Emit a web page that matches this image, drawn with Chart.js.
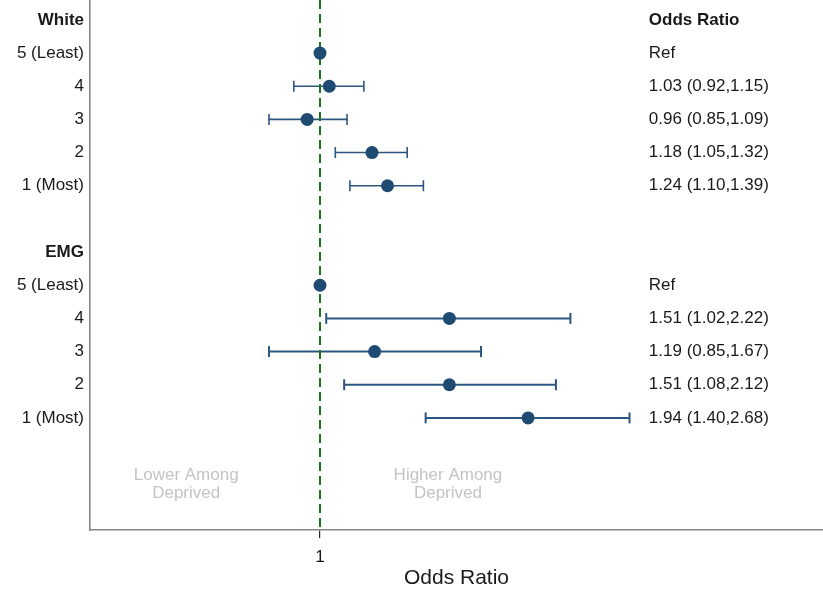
<!DOCTYPE html>
<html>
<head>
<meta charset="utf-8">
<script src="https://cdn.jsdelivr.net/npm/chart.js@4"></script>
<style>
  html, body { margin: 0; padding: 0; background: #fff; }
  #wrap { width: 823px; height: 594px; }
</style>
</head>
<body>
<div id="wrap"><canvas id="forest" width="823" height="594"></canvas></div>
<script>
// rows top to bottom (row index = y value)
const rowLabels = ['White', '5 (Least)', '4', '3', '2', '1 (Most)', '', 'EMG', '5 (Least)', '4', '3', '2', '1 (Most)'];
const headerRows = [0, 7];
const oddsRatio = [null, 1, 1.03, 0.96, 1.18, 1.24, null, null, 1, 1.51, 1.19, 1.51, 1.94];
const lowerCI   = [null, null, 0.92, 0.85, 1.05, 1.10, null, null, null, 1.02, 0.85, 1.08, 1.40];
const upperCI   = [null, null, 1.15, 1.09, 1.32, 1.39, null, null, null, 2.22, 1.67, 2.12, 2.68];
const orText = ['Odds Ratio', 'Ref', '1.03 (0.92,1.15)', '0.96 (0.85,1.09)', '1.18 (1.05,1.32)', '1.24 (1.10,1.39)', '',
                '', 'Ref', '1.51 (1.02,2.22)', '1.19 (0.85,1.67)', '1.51 (1.08,2.12)', '1.94 (1.40,2.68)'];
const xTicks = [1];
const noteLines = [['Lower Among', 'Deprived'], ['Higher Among', 'Deprived']];

const FONT = "'Liberation Sans', Arial, sans-serif";
const DOT = '#1f4a72';
const BAR = '#2b5680';

const yMin = -0.6, yMax = 15.38;
const xMin = 0.4807, xMax = 4.963;

const pointData = [];
oddsRatio.forEach((v, i) => { if (v !== null) pointData.push({ x: v, y: i }); });

const barSets = [];
lowerCI.forEach((lo, i) => {
    if (lo === null) return;
    const thin = i < 7;
    barSets.push({
        data: [{ x: lo, y: i }, { x: upperCI[i], y: i }],
        showLine: true,
        borderColor: BAR,
        borderWidth: thin ? 1.6 : 2,
        pointStyle: 'line',
        pointRotation: 90,
        pointRadius: 5.5,
        pointBorderWidth: thin ? 1.6 : 2,
        pointBorderColor: BAR,
        order: 3
    });
});

const textPlugin = {
    id: 'sideText',
    afterDatasetsDraw(chart) {
        const ctx = chart.ctx;
        const xs = chart.scales.x, ys = chart.scales.y;
        ctx.save();
        ctx.textBaseline = 'middle';
        ctx.textAlign = 'left';
        ctx.fillStyle = '#1a1a1a';
        const colX = xs.getPixelForValue(2.85);
        orText.forEach((t, i) => {
            ctx.font = (i === 0 ? 'bold ' : '') + '17px ' + FONT;
            ctx.fillText(t, colX, ys.getPixelForValue(i));
        });
        ctx.textAlign = 'center';
        ctx.fillStyle = '#c4c4c4';
        ctx.font = '17px ' + FONT;
        const noteX = [0.653, 1.503];
        noteLines.forEach((lines, k) => {
            const px = xs.getPixelForValue(noteX[k]);
            const py = ys.getPixelForValue(14);
            ctx.fillText(lines[0], px, py - 9);
            ctx.fillText(lines[1], px, py + 9);
        });
        ctx.restore();
    }
};

new Chart(document.getElementById('forest'), {
    type: 'scatter',
    data: {
        datasets: [
            {
                data: pointData,
                backgroundColor: DOT,
                borderWidth: 0,
                pointRadius: 6.5,
                order: 1
            },
            {
                data: [{ x: 1, y: yMin }, { x: 1, y: yMax }],
                showLine: true,
                borderColor: '#1a781a',
                borderWidth: 2,
                borderDash: [9, 5],
                pointRadius: 0,
                order: 2
            },
            ...barSets
        ]
    },
    options: {
        responsive: false,
        animation: false,
        layout: { padding: 0, autoPadding: false },
        plugins: { legend: { display: false }, tooltip: { enabled: false } },
        scales: {
            x: {
                type: 'logarithmic',
                min: xMin,
                max: xMax,
                afterBuildTicks: s => { s.ticks = xTicks.map(v => ({ value: v })); },
                afterFit: s => { s.height = 64; s.paddingLeft = 0; s.paddingRight = 0; },
                ticks: {
                    callback: v => String(v),
                    color: '#1a1a1a',
                    font: { family: FONT, size: 17 },
                    padding: 9,
                    autoSkip: false,
                    maxRotation: 0
                },
                grid: { drawOnChartArea: false, drawTicks: true, tickLength: 8, color: '#222', lineWidth: 1.2 },
                border: { color: '#858585', width: 1.6 },
                title: {
                    display: true,
                    text: 'Odds Ratio',
                    color: '#1a1a1a',
                    font: { family: FONT, size: 21 },
                    padding: { top: 0, bottom: 3 }
                }
            },
            y: {
                type: 'linear',
                reverse: true,
                min: yMin,
                max: yMax,
                afterBuildTicks: s => { s.ticks = rowLabels.map((_, i) => ({ value: i })); },
                afterFit: s => { s.width = 90; s.paddingTop = 0; s.paddingBottom = 0; },
                ticks: {
                    callback: (v, i) => rowLabels[i],
                    color: '#1a1a1a',
                    font: c => ({ family: FONT, size: 17, weight: headerRows.includes(c.index) ? 'bold' : 'normal' }),
                    padding: 6,
                    autoSkip: false
                },
                grid: { drawOnChartArea: false, drawTicks: false },
                border: { color: '#858585', width: 1.6 }
            }
        }
    },
    plugins: [textPlugin]
});
</script>
</body>
</html>
